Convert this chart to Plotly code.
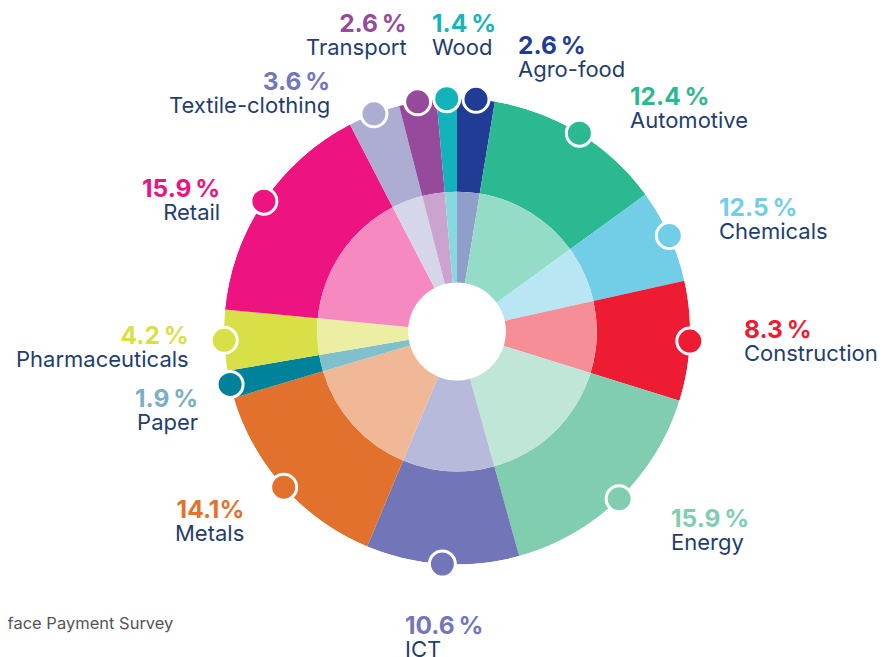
import plotly.graph_objects as go

# ---- data (clockwise from 12 o'clock) ----
categories = ["Agro-food", "Automotive", "Chemicals", "Construction", "Energy", "ICT",
              "Metals", "Paper", "Pharmaceuticals", "Retail", "Textile-clothing",
              "Transport", "Wood"]
# share of the circle as drawn (%)
slice_share = [2.6, 12.4, 6.5, 8.3, 15.9, 10.6, 14.1, 1.9, 4.2, 15.9, 3.6, 2.6, 1.4]
# percentage labels as printed
pct_labels = ["2.6\u202f%", "12.4\u202f%", "12.5\u202f%", "8.3\u202f%", "15.9\u202f%", "10.6\u202f%",
              "14.1%", "1.9\u202f%", "4.2\u202f%", "15.9\u202f%", "3.6\u202f%", "2.6\u202f%", "1.4\u202f%"]

outer_colors = ["#213c94", "#2bb991", "#72cee6", "#ed1c32", "#80cdb0", "#7276b8",
                "#e1712c", "#00829a", "#d9df47", "#ed1380", "#adadd4", "#954a9c", "#12b3bb"]
pct_colors = ["#213c94", "#2bb98f", "#72cee6", "#ed1c33", "#80cdb0", "#7377b9",
              "#e27230", "#7bb0c2", "#d9df47", "#ec1380", "#7377b9", "#954a9c", "#19b4b9"]
NAME_COLOR = "#1f3e6d"


def lighten(hex_color, f=0.5):
    h = hex_color.lstrip("#")
    r, g, b = (int(h[i:i + 2], 16) for i in (0, 2, 4))
    r, g, b = (round(c + (255 - c) * f) for c in (r, g, b))
    return f"#{r:02x}{g:02x}{b:02x}"


inner_colors = [lighten(c, 0.5) for c in outer_colors]

# angles derived from the shares
total = sum(slice_share)
widths = [s / total * 360 for s in slice_share]
mids = []
acc = 0
for w in widths:
    mids.append(acc + w / 2)
    acc += w

R_HOLE, R_MID, R_OUT = 0.21, 0.60, 1.0

fig = go.Figure()
fig.add_trace(go.Barpolar(
    theta=mids, width=widths, r=[R_OUT - R_MID] * len(mids), base=[R_MID] * len(mids),
    marker=dict(color=outer_colors, line=dict(width=0)), hoverinfo="skip", showlegend=False))
fig.add_trace(go.Barpolar(
    theta=mids, width=widths, r=[R_MID - R_HOLE] * len(mids), base=[R_HOLE] * len(mids),
    marker=dict(color=inner_colors, line=dict(width=0)), hoverinfo="skip", showlegend=False))
fig.add_trace(go.Scatterpolar(
    theta=mids, r=[R_OUT] * len(mids), mode="markers", cliponaxis=False,
    marker=dict(size=26, color=outer_colors, line=dict(color="white", width=3)),
    hoverinfo="skip", showlegend=False))

OFF = 8  # page body margin
W, H = 888 - OFF, 657 - OFF
cx, cy, rad = 457 - OFF, 331.5 - OFF, 233


def px(x):
    return (x - OFF) / W


def py(y):
    return 1 - (y - OFF) / H


# label placement in screen pixels: (anchor x, pct centre y, name centre y, side)
label_pos = {
    "Agro-food": (516, 45, 68, "left"),
    "Automotive": (628, 96, 118, "left"),
    "Chemicals": (717, 207, 229, "left"),
    "Construction": (742, 328, 351, "left"),
    "Energy": (669, 517, 541, "left"),
    "ICT": (403, 625, 647, "left"),
    "Metals": (246, 508, 531, "right"),
    "Paper": (200, 398, 420, "right"),
    "Pharmaceuticals": (191, 334, 357, "right"),
    "Retail": (222, 187, 210, "right"),
    "Textile-clothing": (332, 81, 103, "right"),
    "Transport": (409, 21, 46, "right"),
    "Wood": (430, 21, 46, "left"),
}

FONT = "Inter"
annotations = []
for cat, pct, pc in zip(categories, pct_labels, pct_colors):
    x, yp, yn, side = label_pos[cat]
    text = (f"<span style='font-size:24.5px;color:{pc}'><b>{pct}</b></span><br>"
            f"<span style='font-size:22px;color:{NAME_COLOR}'>{cat}</span>")
    annotations.append(dict(
        x=px(x), y=py((yp + yn) / 2), xref="paper", yref="paper", xanchor=side, yanchor="middle",
        align=side, text=text, showarrow=False,
        font=dict(family=FONT, size=17.5, color=NAME_COLOR)))

annotations.append(dict(
    x=px(175), y=py(623), xref="paper", yref="paper", xanchor="right", yanchor="middle",
    text="Source: Coface Payment Survey", showarrow=False,
    font=dict(family=FONT, size=16.5, color="#555555")))

fig.update_layout(
    width=W, height=H, margin=dict(l=0, r=0, t=0, b=0),
    paper_bgcolor="white", plot_bgcolor="white",
    polar=dict(
        domain=dict(x=[(cx - rad) / W, (cx + rad) / W], y=[1 - (cy + rad) / H, 1 - (cy - rad) / H]),
        bgcolor="rgba(0,0,0,0)",
        radialaxis=dict(range=[0, 1], visible=False, showgrid=False),
        angularaxis=dict(rotation=90, direction="clockwise", visible=False, showgrid=False),
        bargap=0,
    ),
    annotations=annotations,
)

fig.write_html("out.html")
